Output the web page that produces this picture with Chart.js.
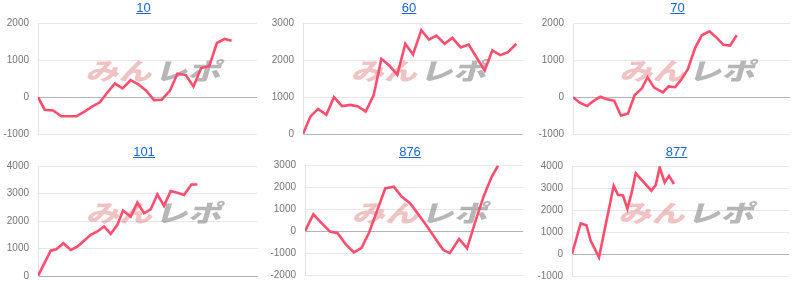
<!DOCTYPE html>
<html>
<head>
<meta charset="utf-8">
<script src="https://cdn.jsdelivr.net/npm/chart.js@4"></script>
<style>
  body { margin: 0; background: #fff; }
  #wrap { position: relative; width: 800px; height: 282px; overflow: hidden; background: #fff; }
  .panel { position: absolute; height: 141px; }
  .panel canvas { position: absolute; left: 0; top: 0; }
  .ttl {
    position: absolute; top: 0; transform: translateX(-50%);
    font: 13px "Liberation Sans", Arial, sans-serif; line-height: 15px;
    color: #1a66d2; text-decoration: underline; white-space: nowrap;
  }
</style>
</head>
<body>
<div id="wrap"></div>
<script>
// machine numbers shown as panel titles
const machines = ['10', '60', '70', '101', '876', '877'];

// x = games played, y = coin difference
const games10 = [0, 275, 618, 962, 1305, 1580, 1924, 2240, 2542, 2844, 3160, 3476, 3806, 4122, 4438, 4768, 5084, 5427, 5728, 6073, 6389, 6705, 7035, 7353, 7669, 7956];
const diff10 = [0, -340, -360, -520, -520, -520, -385, -250, -140, 120, 370, 240, 460, 350, 180, -80, -70, 180, 640, 600, 290, 790, 840, 1470, 1580, 1530];

const games60 = [0, 300, 614, 955, 1268, 1595, 1950, 2250, 2564, 2891, 3205, 3518, 3859, 4186, 4500, 4841, 5155, 5455, 5795, 6109, 6450, 6777, 7091, 7432, 7745, 8073, 8386, 8727];
const diff60 = [0, 470, 680, 520, 1000, 760, 790, 750, 610, 1050, 2040, 1870, 1610, 2450, 2160, 2820, 2560, 2670, 2450, 2610, 2350, 2430, 2090, 1720, 2270, 2140, 2220, 2450];

const games70 = [0, 276, 580, 856, 1132, 1408, 1712, 1988, 2278, 2554, 2857, 3092, 3368, 3727, 3962, 4238, 4514, 4764, 5066, 5342, 5660, 5963, 6239, 6515, 6791];
const diff70 = [0, -150, -240, -100, 10, -55, -100, -500, -450, 50, 240, 540, 260, 130, 290, 270, 500, 760, 1340, 1680, 1790, 1610, 1420, 1400, 1680];

const games101 = [0, 520, 751, 1038, 1338, 1611, 1883, 2156, 2429, 2701, 2974, 3247, 3479, 3792, 4065, 4338, 4610, 4883, 5156, 5429, 5701, 5974, 6274, 6520];
const diff101 = [0, 920, 970, 1190, 950, 1070, 1280, 1500, 1620, 1800, 1530, 1860, 2380, 2160, 2670, 2280, 2420, 2970, 2550, 3090, 3030, 2950, 3330, 3330];

const games876 = [0, 344, 687, 1031, 1347, 1690, 2020, 2336, 2652, 2982, 3311, 3669, 3985, 4328, 4672, 5015, 5359, 5702, 5977, 6362, 6691, 7035, 7378, 7694, 7969];
const diff876 = [0, 770, 370, -20, -90, -610, -970, -760, -50, 950, 1950, 2030, 1580, 1290, 780, 260, -300, -850, -1000, -350, -780, 450, 1600, 2450, 3000];

const games877 = [0, 361, 597, 776, 1120, 1729, 1908, 2115, 2298, 2464, 2642, 3293, 3471, 3637, 3845, 4023, 4230];
const diff877 = [0, 1390, 1310, 600, -150, 3100, 2690, 2660, 2060, 2730, 3670, 2880, 3130, 3930, 3250, 3550, 3180];

const yMins = [-1000, 0, -1000, 0, -2000, -1000];
const yMaxs = [2000, 3000, 2000, 4000, 3000, 4000];
const gamesMax = 9000;

const allGames = [games10, games60, games70, games101, games876, games877];
const allDiffs = [diff10, diff60, diff70, diff101, diff876, diff877];

// where each small chart sits on the page, and where its plot area should land
const boxes = [
  { left: 0,   top: 0,   width: 259, areaTop: 23.5, areaBottom: 133.5 },
  { left: 265, top: 0,   width: 260, areaTop: 23.5, areaBottom: 133.5 },
  { left: 535, top: 0,   width: 257, areaTop: 23.5, areaBottom: 133.5 },
  { left: 0,   top: 141, width: 260, areaTop: 25,   areaBottom: 134.5 },
  { left: 267, top: 141, width: 258, areaTop: 24.5, areaBottom: 133.5 },
  { left: 534, top: 141, width: 257, areaTop: 25,   areaBottom: 134.5 },
];

const watermark = {
  id: 'watermark',
  beforeDatasetsDraw(chart) {
    const { ctx, chartArea: a } = chart;
    ctx.save();
    ctx.translate((a.left + a.right) / 2 + 8, a.top + 47);
    ctx.transform(1.38, 0, -0.28, 1, 0, 0);
    ctx.font = '900 24px "Noto Sans CJK JP"';
    ctx.textBaseline = 'middle';
    ctx.textAlign = 'right';
    ctx.fillStyle = 'rgba(222,110,115,0.42)';
    ctx.fillText('みん', -1, 0);
    ctx.textAlign = 'left';
    ctx.fillStyle = 'rgba(110,110,110,0.5)';
    ctx.fillText('レポ', 1, 0);
    ctx.restore();
  }
};

function makeChart(canvas, i, pad) {
  const points = allGames[i].map((g, k) => ({ x: g, y: allDiffs[i][k] }));
  return new Chart(canvas.getContext('2d'), {
    type: 'line',
    data: {
      datasets: [{
        data: points,
        borderColor: '#ff4d6d',
        borderWidth: 2.6,
        pointRadius: 0,
        tension: 0,
        fill: false,
      }],
    },
    options: {
      responsive: false,
      animation: false,
      events: [],
      layout: { autoPadding: false, padding: pad },
      plugins: { legend: { display: false }, title: { display: false }, tooltip: { enabled: false } },
      scales: {
        x: { type: 'linear', display: false, min: 0, max: gamesMax },
        y: {
          min: yMins[i],
          max: yMaxs[i],
          afterFit: (scale) => { scale.width = 38; },
          ticks: {
            stepSize: 1000,
            padding: 9,
            color: '#757575',
            font: { family: '"Liberation Sans", Arial, sans-serif', size: 10 },
            callback: (v) => String(v),
          },
          grid: {
            drawTicks: false,
            color: (c) => (c.tick && c.tick.value === 0 ? '#b4b4b4' : '#e8e8e8'),
          },
          border: { display: true, color: '#e4e4e4' },
        },
      },
    },
    plugins: [watermark],
  });
}

const wrap = document.getElementById('wrap');

machines.forEach((name, i) => {
  const box = boxes[i];
  const panel = document.createElement('div');
  panel.className = 'panel';
  panel.style.left = box.left + 'px';
  panel.style.top = box.top + 'px';
  panel.style.width = box.width + 'px';
  const canvas = document.createElement('canvas');
  canvas.width = box.width;
  canvas.height = 141;
  const link = document.createElement('a');
  link.className = 'ttl';
  link.href = '#';
  link.textContent = name;
  link.style.top = (i < 3 ? 0 : 3) + 'px';
  panel.appendChild(canvas);
  panel.appendChild(link);
  wrap.appendChild(panel);

  const pad = { top: box.areaTop, bottom: 0, left: 0, right: 2 };

  // the bottom of the plot area keeps a fixed gap, so measure it and grow the canvas instead
  let chart = makeChart(canvas, i, pad);
  const gap = canvas.height - chart.chartArea.bottom;
  const topFix = box.areaTop - chart.chartArea.top;
  chart.destroy();
  canvas.width = box.width;
  canvas.height = Math.round(box.areaBottom + gap);
  canvas.style.width = box.width + 'px';
  canvas.style.height = canvas.height + 'px';
  chart = makeChart(canvas, i, { top: box.areaTop + topFix, bottom: 0, left: 0, right: 2 });

  const b = chart.chartArea;
  link.style.left = ((b.left + b.right) / 2 - 4) + 'px';
});
</script>
</body>
</html>
